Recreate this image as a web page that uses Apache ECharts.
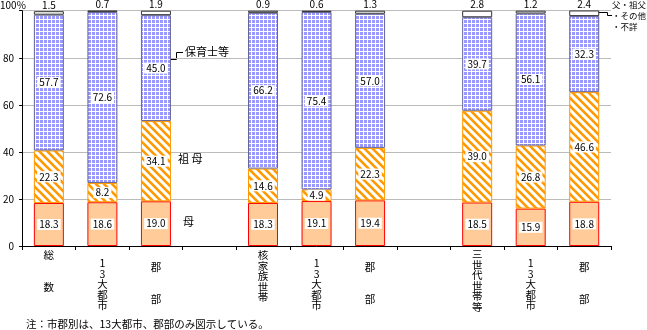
<!DOCTYPE html>
<html><head><meta charset="utf-8">
<script src="https://cdn.jsdelivr.net/npm/echarts@6/dist/echarts.min.js"></script>
<style>html,body{margin:0;padding:0;background:#fff}#c{width:647px;height:330px}</style>
</head><body><div id="c"></div>
<script>
const categories = ['総\n\n\n数','1\n3\n大\n都\n市','郡\n\n\n部','','核\n家\n族\n世\n帯','1\n3\n大\n都\n市','郡\n\n\n部','','三\n世\n代\n世\n帯\n等','1\n3\n大\n都\n市','郡\n\n\n部'];
const catPad = [0,8,12,0,0,8,12,0,-1,8,12];
const mother = [18.3,18.6,19.0,null,18.3,19.1,19.4,null,18.5,15.9,18.8];
const grandmother = [22.3,8.2,34.1,null,14.6,4.9,22.3,null,39.0,26.8,46.6];
const nursery = [57.7,72.6,45.0,null,66.2,75.4,57.0,null,39.7,56.1,32.3];
const other = [1.5,0.7,1.9,null,0.9,0.6,1.3,null,2.8,1.2,2.4];
const yTicks = [0,20,40,60,80,100];

const FONT = '"Noto Sans CJK JP", sans-serif';
function stripe(){
  const c=document.createElement('canvas');c.width=8;c.height=8;
  const g=c.getContext('2d');g.fillStyle='#fff';g.fillRect(0,0,8,8);
  g.strokeStyle='#FF9900';g.lineWidth=2.6;
  for(const o of [-8,0,8]){g.beginPath();g.moveTo(o-2,-2);g.lineTo(o+10,10);g.stroke();}
  return c;
}
function grid(){
  const c=document.createElement('canvas');c.width=4;c.height=4;
  const g=c.getContext('2d');g.fillStyle='#fff';g.fillRect(0,0,4,4);
  g.fillStyle='#9999FF';g.fillRect(0,0,3,3);
  return c;
}
const inLabel = {show:true,position:'inside',color:'#000',fontSize:10,fontFamily:FONT,backgroundColor:'#fff',padding:[1,2,0,2],formatter:p=>p.value.toFixed(1)};
const chart = echarts.init(document.getElementById('c'));
chart.setOption({
  animation:false,
  grid:{left:22,right:36,top:10.7,bottom:84},
  xAxis:{type:'category',data:categories.map((c,i)=>({value:c,textStyle:{padding:[catPad[i],0,0,0]}})),
    axisLine:{lineStyle:{color:'#000'}},axisTick:{show:true,length:4,lineStyle:{color:'#000'},alignWithLabel:false},
    axisLabel:{interval:0,color:'#000',fontSize:10.5,fontFamily:FONT,lineHeight:10.5,verticalAlign:'top',margin:4}},
  yAxis:{type:'value',min:0,max:100,interval:20,
    axisLine:{show:true,lineStyle:{color:'#000'}},axisTick:{show:true,length:3,lineStyle:{color:'#000'}},
    splitLine:{lineStyle:{color:'#BBBBBB'}},
    axisLabel:{color:'#000',fontSize:10,fontFamily:FONT,margin:8,formatter:v=>v===100?'':String(v)}},
  series:[
    {name:'母',type:'bar',stack:'s',barWidth:30,data:mother,
      itemStyle:{color:'#FFCC99',borderColor:'#FF0000',borderWidth:1},label:inLabel},
    {name:'祖母',type:'bar',stack:'s',barWidth:30,data:grandmother,
      itemStyle:{color:{image:stripe(),repeat:'repeat'},borderColor:'#FF9900',borderWidth:1},label:inLabel},
    {name:'保育士等',type:'bar',stack:'s',barWidth:30,data:nursery,
      itemStyle:{color:{image:grid(),repeat:'repeat'},borderColor:'#666699',borderWidth:1},label:inLabel},
    {name:'父・祖父・その他・不詳',type:'bar',stack:'s',barWidth:30,data:other,
      itemStyle:{color:'#fff',borderColor:'#333333',borderWidth:1},
      label:{show:true,position:'top',distance:1,color:'#000',fontSize:10,fontFamily:FONT,formatter:p=>p.value.toFixed(1)}}
  ],
  graphic:[
    {type:'text',left:0,top:0,style:{text:'100%',font:'10px '+FONT,fill:'#000'}},
    {type:'polyline',shape:{points:[[167,59.5],[176.5,59.5],[176.5,52.5],[183,52.5]]},style:{stroke:'#000',lineWidth:1,fill:null}},
    {type:'text',left:185,top:46,style:{text:'保育士等',font:'11px '+FONT,fill:'#000'}},
    {type:'text',left:178,top:153,style:{text:'祖 母',font:'11px '+FONT,fill:'#000'}},
    {type:'text',left:183,top:216,style:{text:'母',font:'11px '+FONT,fill:'#000'}},
    {type:'polyline',shape:{points:[[592,12.5],[607.5,12.5],[607.5,15.5],[612,15.5]]},style:{stroke:'#000',lineWidth:1,fill:null}},
    {type:'text',left:612,top:1,style:{text:'父・祖父',font:'8.5px '+FONT,fill:'#000'}},
    {type:'text',left:612,top:12,style:{text:'・その他',font:'8.5px '+FONT,fill:'#000'}},
    {type:'text',left:612,top:23,style:{text:'・不詳',font:'8.5px '+FONT,fill:'#000'}},
    {type:'text',left:26,top:319,style:{text:'注：市郡別は、13大都市、郡部のみ図示している。',font:'10.5px '+FONT,fill:'#000'}}
  ]
});
</script></body></html>
